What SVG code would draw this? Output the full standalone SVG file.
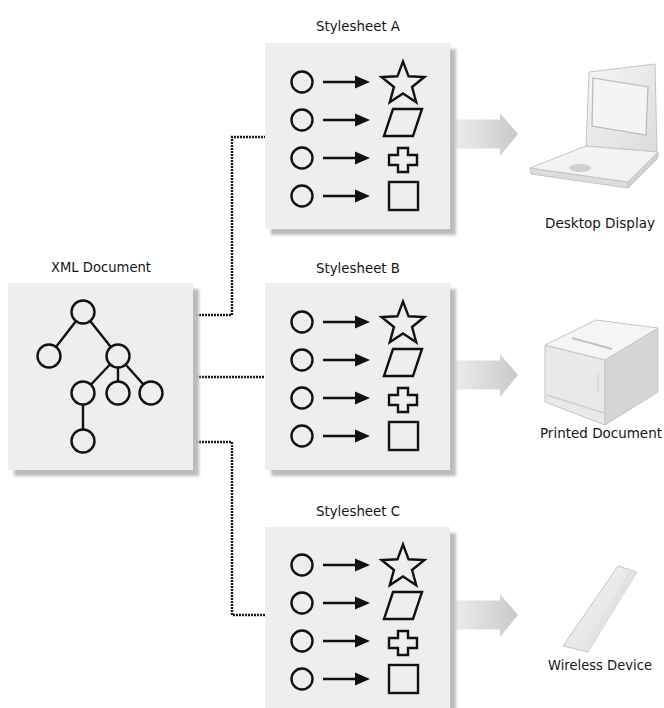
<svg xmlns="http://www.w3.org/2000/svg" xmlns:xlink="http://www.w3.org/1999/xlink" width="664" height="708" viewBox="0 0 664 708">
  <style>
    .label { font-family: "Liberation Sans Narrow", "DejaVu Sans Condensed", "Liberation Sans", sans-serif; font-size: 14.5px; fill: #151515; text-anchor: middle; }
    .panel { fill: #eeeeee; }
    .shadow { fill: #bcbcbc; filter: url(#soft); }
    .ink { fill: none; stroke: #111; stroke-width: 2.4; stroke-linejoin: miter; }
    .tree line { stroke: #111; stroke-width: 2.4; }
    .tree circle { fill: #eeeeee; stroke: #111; stroke-width: 2.4; }
    .dotted { fill: none; stroke: #1a1a1a; stroke-width: 2.4; stroke-dasharray: 2 1; }
    .flow { fill: url(#flowGrad); }
    .dev { stroke: #c4c4c4; stroke-width: 1; stroke-linejoin: round; }
  </style>
  <defs>
    <filter id="soft" x="-10%" y="-10%" width="120%" height="120%">
      <feGaussianBlur stdDeviation="1.5"/>
    </filter>
    <linearGradient id="flowGrad" x1="0" y1="0" x2="1" y2="0">
      <stop offset="0" stop-color="#ececec"/>
      <stop offset="1" stop-color="#c9c9c9"/>
    </linearGradient>
    <linearGradient id="devGrad" x1="0" y1="0" x2="1" y2="1">
      <stop offset="0" stop-color="#f6f6f6"/>
      <stop offset="1" stop-color="#dcdcdc"/>
    </linearGradient>
    <!-- one rule row: source circle and arrow -->
    <g id="src">
      <circle cx="37" cy="0" r="10.5" class="ink"/>
      <line x1="58" y1="0" x2="92" y2="0" stroke="#111" stroke-width="2.6"/>
      <polygon points="90,-6.5 105,0 90,6.5" fill="#111"/>
    </g>
    <!-- the four rules of a stylesheet, origin at panel top-left -->
    <g id="rules">
      <use xlink:href="#src" transform="translate(0,39)"/>
      <use xlink:href="#src" transform="translate(0,77)"/>
      <use xlink:href="#src" transform="translate(0,115)"/>
      <use xlink:href="#src" transform="translate(0,153)"/>
      <polygon class="ink" transform="translate(138,41)" points="0,-22.5 5.58,-7.69 21.4,-6.95 9.04,2.94 13.23,18.2 0,9.5 -13.23,18.2 -9.04,2.94 -21.4,-6.95 -5.58,-7.69"/>
      <polygon class="ink" transform="translate(0,78)" points="128,-12 157,-12 148,15 119,15"/>
      <polygon class="ink" transform="translate(138,117)" points="-5,-12 5,-12 5,-5 14,-5 14,5 5,5 5,12 -5,12 -5,5 -14,5 -14,-5 -5,-5"/>
      <rect class="ink" x="124" y="139" width="29" height="28"/>
    </g>
    <!-- wide grey flow arrow, origin at its tail centre -->
    <polygon id="flow" class="flow" points="0,-14.5 45,-14.5 45,-21 63,0 45,22 45,14.5 0,14.5"/>
  </defs>

  <rect width="664" height="708" fill="#ffffff"/>

  <!-- connectors -->
  <g id="connectors">
    <polyline class="dotted" points="193,315 232,315 232,137 265,137"/>
    <polyline class="dotted" points="193,377 265,377"/>
    <polyline class="dotted" points="193,442 232,442 232,615 265,615"/>
    <use xlink:href="#flow" transform="translate(455,134)"/>
    <use xlink:href="#flow" transform="translate(455,375)"/>
    <use xlink:href="#flow" transform="translate(455,615)"/>
  </g>

  <!-- source document -->
  <g id="xml-document">
    <text class="label" x="101" y="272" textLength="100" lengthAdjust="spacingAndGlyphs">XML Document</text>
    <rect class="shadow" x="14" y="289" width="185" height="187"/>
    <rect class="panel" x="8" y="283" width="185" height="187"/>
    <g class="tree">
      <line x1="83" y1="312" x2="49" y2="356"/>
      <line x1="83" y1="312" x2="118" y2="356"/>
      <line x1="118" y1="356" x2="83" y2="393"/>
      <line x1="118" y1="356" x2="118" y2="393"/>
      <line x1="118" y1="356" x2="151" y2="393"/>
      <line x1="83" y1="393" x2="83" y2="441"/>
      <circle cx="83" cy="312" r="11.5"/>
      <circle cx="49" cy="356" r="11.5"/>
      <circle cx="118" cy="356" r="11.5"/>
      <circle cx="83" cy="393" r="11.5"/>
      <circle cx="118" cy="393" r="11.5"/>
      <circle cx="151" cy="393" r="11.5"/>
      <circle cx="83" cy="441" r="11.5"/>
    </g>
  </g>

  <!-- stylesheets -->
  <g id="stylesheet-a">
    <text class="label" x="358" y="31" textLength="84" lengthAdjust="spacingAndGlyphs">Stylesheet A</text>
    <rect class="shadow" x="271" y="49" width="185" height="186"/>
    <rect class="panel" x="265" y="43" width="185" height="186"/>
    <use xlink:href="#rules" transform="translate(265,43)"/>
  </g>
  <g id="stylesheet-b">
    <text class="label" x="358" y="273" textLength="84" lengthAdjust="spacingAndGlyphs">Stylesheet B</text>
    <rect class="shadow" x="271" y="289" width="185" height="187"/>
    <rect class="panel" x="265" y="283" width="185" height="187"/>
    <use xlink:href="#rules" transform="translate(265,283)"/>
  </g>
  <g id="stylesheet-c">
    <text class="label" x="358" y="516" textLength="84" lengthAdjust="spacingAndGlyphs">Stylesheet C</text>
    <rect class="shadow" x="271" y="533" width="185" height="190"/>
    <rect class="panel" x="265" y="527" width="185" height="190"/>
    <use xlink:href="#rules" transform="translate(265,526)"/>
  </g>

  <!-- output devices -->
  <g id="desktop-display">
    <polygon class="dev" fill="url(#devGrad)" points="586,146 589,72 655,64 657,152"/>
    <polygon points="593,78 648,87 646,135 592,126" fill="#f4f4f4" stroke="#b8b8b8" stroke-width="1.2"/>
    <polygon class="dev" fill="#dcdcdc" points="530,168 628,182 628,188 531,174"/>
    <polygon class="dev" fill="#d2d2d2" points="628,182 658,152 658,158 628,188"/>
    <polygon class="dev" fill="#f3f3f3" points="530,168 586,146 658,152 628,182"/>
    <ellipse cx="580" cy="168" rx="11" ry="4" fill="#d0d0d0"/>
    <text class="label" x="600" y="228" textLength="110" lengthAdjust="spacingAndGlyphs">Desktop Display</text>
  </g>
  <g id="printed-document">
    <polygon class="dev" fill="#e9e9e9" points="545,345 605,360 605,425 545,402"/>
    <polygon class="dev" fill="#d6d6d6" points="605,360 658,328 658,392 605,425"/>
    <polygon class="dev" fill="#f5f5f5" points="545,345 596,320 658,328 605,360"/>
    <line x1="572" y1="338" x2="612" y2="349" stroke="#c2c2c2" stroke-width="2"/>
    <line x1="598" y1="374" x2="598" y2="392" stroke="#c8c8c8" stroke-width="1"/>
    <line x1="547" y1="395" x2="604" y2="413" stroke="#cfcfcf" stroke-width="1.5"/>
    <text class="label" x="601" y="438" textLength="122" lengthAdjust="spacingAndGlyphs">Printed Document</text>
  </g>
  <g id="wireless-device">
    <polygon class="dev" fill="url(#devGrad)" points="618,566 637,572 588,652 563,646"/>
    <polygon fill="#e2e2e2" points="630,570 637,572 590,650 584,648"/>
    <text class="label" x="600" y="670" textLength="104" lengthAdjust="spacingAndGlyphs">Wireless Device</text>
  </g>
</svg>
